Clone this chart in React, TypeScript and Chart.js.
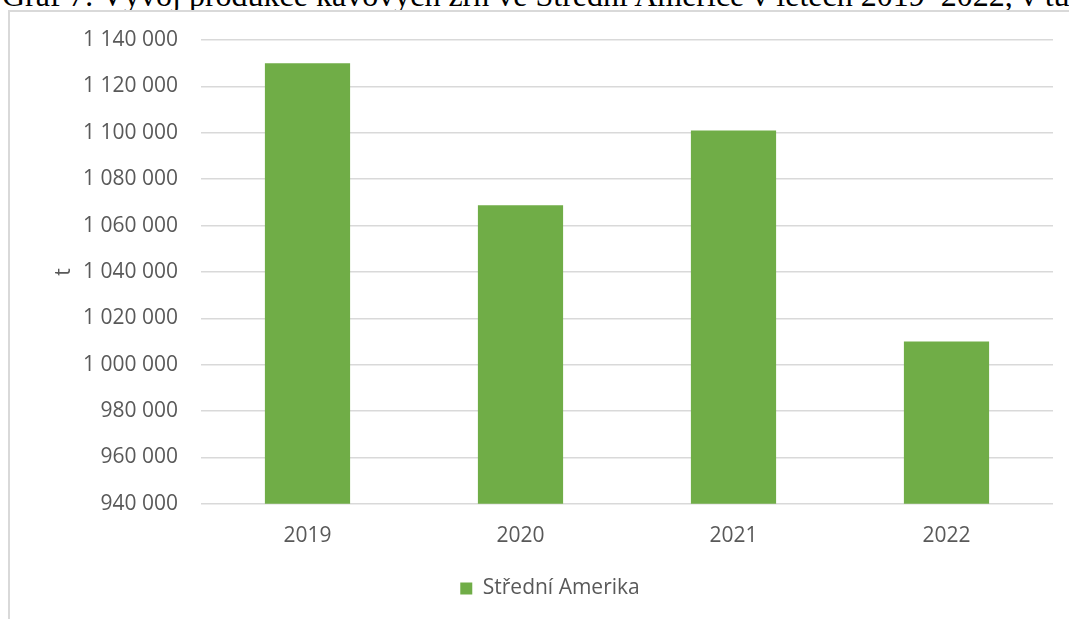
import React, { useEffect, useRef } from "react";
import { Chart, registerables } from "chart.js";

Chart.register(...registerables);

const categories = ["2019", "2020", "2021", "2022"];
const seriesName = "Střední Amerika";
const seriesValues = [1130000, 1068700, 1101000, 1010000];
const yMin = 940000;
const yMax = 1140000;
const yStep = 20000;
const yTitle = "t";
const chartTitle = "Graf 7: Vývoj produkce kávových zrn ve Střední Americe v letech 2019–2022, v tunách";

const fmt = (v: number) =>
  String(Math.round(v)).replace(/\B(?=(\d{3})+(?!\d))/g, " ");

export default function App() {
  const ref = useRef<HTMLCanvasElement | null>(null);

  useEffect(() => {
    if (!ref.current) return;
    const font = { family: "'Open Sans', sans-serif", size: 21 };
    const chart = new Chart(ref.current, {
      type: "bar",
      data: {
        labels: categories,
        datasets: [
          {
            label: seriesName,
            data: seriesValues,
            backgroundColor: "#70ad47",
            borderWidth: 0,
            categoryPercentage: 0.4,
            barPercentage: 1,
          },
        ],
      },
      options: {
        responsive: false,
        animation: false,
        layout: { padding: { left: 47, right: 16, top: 40, bottom: 10 } },
        plugins: {
          legend: {
            position: "bottom",
            labels: {
              boxWidth: 12,
              boxHeight: 12,
              color: "#595959",
              font,
            },
          },
          tooltip: { enabled: false },
        },
        scales: {
          x: {
            grid: { display: false },
            border: { display: false },
            ticks: { color: "#595959", font, padding: 12 },
            afterFit: (scale: any) => {
              scale.height += 7;
            },
          },
          y: {
            min: yMin,
            max: yMax,
            afterFit: (scale: any) => {
              scale.width = 154;
            },
            grid: { color: "#d9d9d9", lineWidth: 1.5, drawTicks: false },
            border: { display: false },
            title: { display: true, text: yTitle, color: "#595959", font },
            ticks: {
              stepSize: yStep,
              color: "#595959",
              font,
              padding: 23,
              callback: (v: any) => fmt(Number(v)),
            },
          },
        },
      },
    });
    return () => chart.destroy();
  }, []);

  return (
    <div
      style={{
        position: "fixed",
        left: 0,
        top: 0,
        width: 1069,
        height: 619,
        overflow: "hidden",
        background: "#fff",
      }}
    >
      <div
        style={{
          position: "absolute",
          left: 2,
          top: -21,
          fontFamily: "'Liberation Serif', 'Times New Roman', serif",
          fontSize: 32,
          lineHeight: "32px",
          whiteSpace: "nowrap",
          color: "#000",
        }}
      >
        {chartTitle}
      </div>
      <div
        style={{
          position: "absolute",
          left: 8,
          top: 10,
          width: 1120,
          height: 700,
          border: "2px solid #d9d9d9",
          boxSizing: "border-box",
          background: "#fff",
        }}
      />
      <canvas
        ref={ref}
        width={1069}
        height={619}
        style={{ position: "absolute", left: 0, top: 0 }}
      />
    </div>
  );
}
